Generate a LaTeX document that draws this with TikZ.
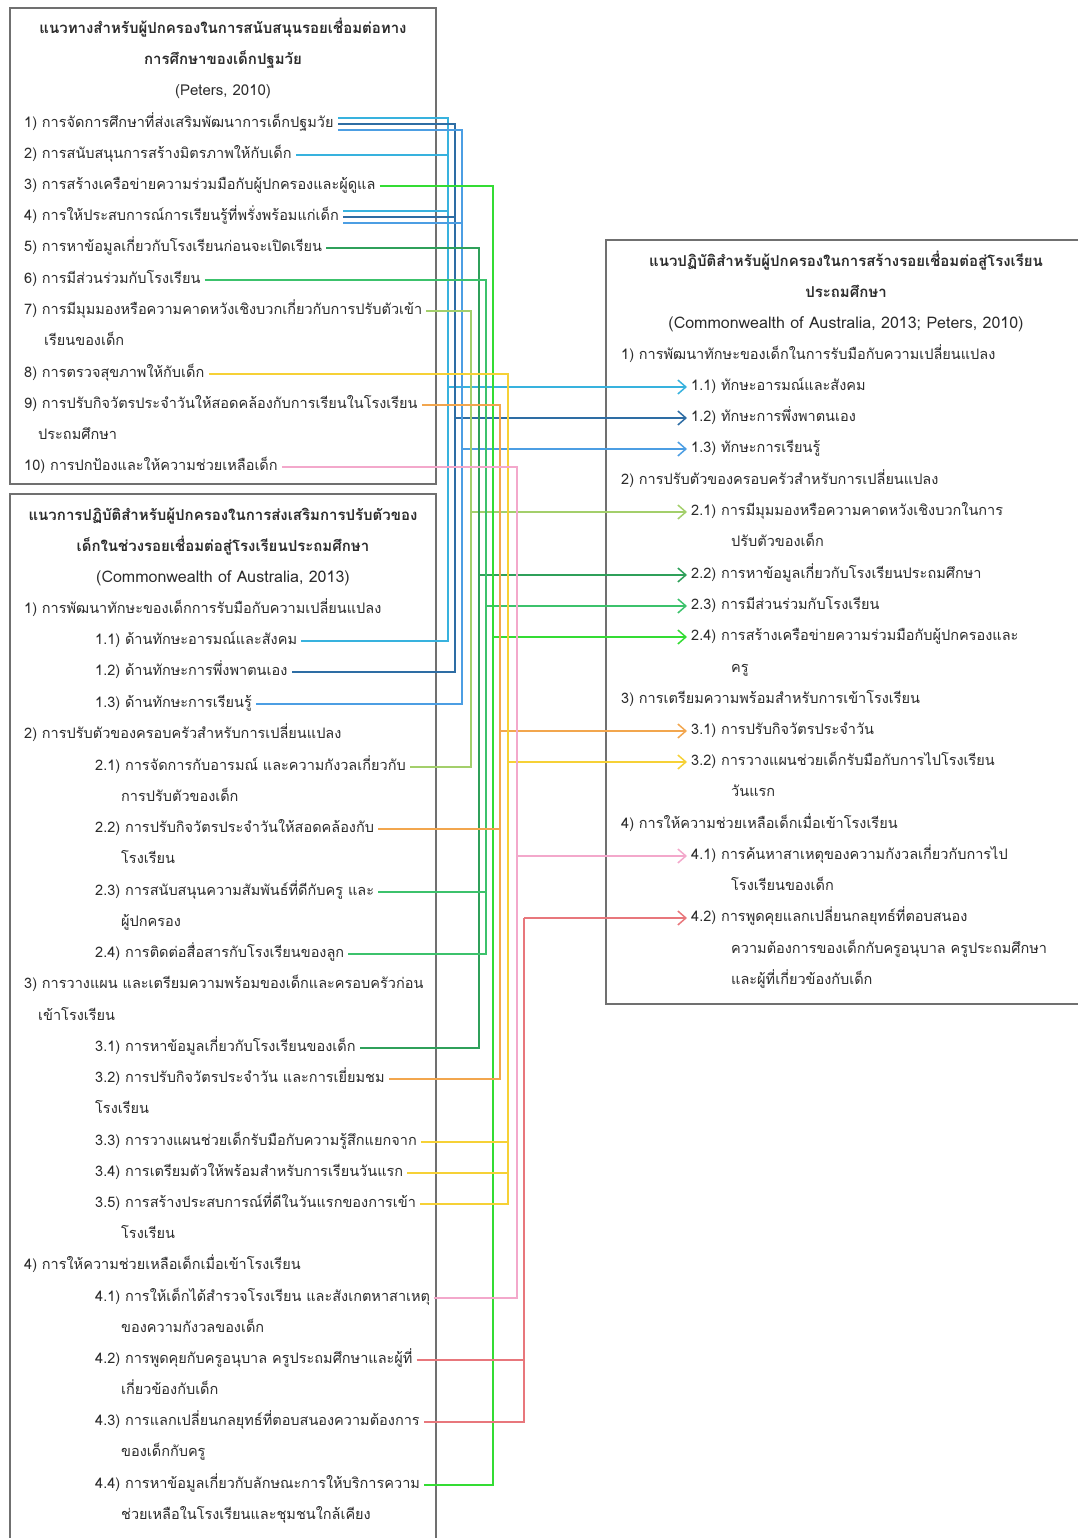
\documentclass[tikz,border=0pt]{standalone}
\usepackage{fontspec}
\setmainfont[Script=Thai]{Loma}
\usepackage{tikz}
\usetikzlibrary{arrows.meta,positioning,calc}
\usepackage{xcolor}
\definecolor{TrCyan}{HTML}{38B2DE}
\definecolor{TrNavy}{HTML}{2E6DA4}
\definecolor{TrBlue}{HTML}{4C9EE3}
\definecolor{TrLime}{HTML}{A3CF6B}
\definecolor{TrForest}{HTML}{2FA05A}
\definecolor{TrGreen}{HTML}{3CC26C}
\definecolor{TrBright}{HTML}{34DC34}
\definecolor{TrOrange}{HTML}{F2A64E}
\definecolor{TrYellow}{HTML}{F6D136}
\definecolor{TrPink}{HTML}{F3A8CB}
\definecolor{TrRed}{HTML}{E8777C}
\definecolor{TrFrame}{HTML}{707070}
\definecolor{TrInk}{HTML}{2B2B2B}

\begin{document}
\begin{tikzpicture}[x=1pt, y=-1pt, font=\fontsize{14.5}{16}\selectfont, text=TrInk,
    txt/.style={anchor=west, inner xsep=4pt, inner ysep=0pt, text height=11pt, text depth=4pt},
    ttl/.style={anchor=center, inner sep=0pt, text height=11pt, text depth=4pt, font=\fontsize{15}{17}\selectfont\bfseries},
    cite/.style={anchor=center, inner sep=0pt, text height=11pt, text depth=4pt, font=\fontsize{16}{17}\selectfont},
    frame/.style={draw=TrFrame, line width=1.1pt},
    link/.style={line width=1.5pt},
    arr/.style={link, -{Straight Barb[length=8pt, width=14pt, line width=1.5pt]}}]
  \useasboundingbox (0,0) rectangle (1078,1538);

  % frames
  \draw[frame] (10,8) rectangle (436,484);
  \draw[frame] (10,1538) |- (436,494) -- (436,1538);
  \draw[frame] (1078,240) -| (606,1004) -- (1078,1004);

  % top-left box
  \node[ttl] (tA1) at (223,30) {แนวทางสำหรับผู้ปกครองในการสนับสนุนรอยเชื่อมต่อทาง};
  \node[ttl] (tA2) at (223,61) {การศึกษาของเด็กปฐมวัย};
  \node[cite, font=\fontsize{15}{17}\selectfont] (tA3) at (223,92) {(Peters, 2010)};
  \node[txt] (p1) at (20,124) {1) การจัดการศึกษาที่ส่งเสริมพัฒนาการเด็กปฐมวัย};
  \node[txt] (p2) at (20,155) {2) การสนับสนุนการสร้างมิตรภาพให้กับเด็ก};
  \node[txt] (p3) at (20,186) {3) การสร้างเครือข่ายความร่วมมือกับผู้ปกครองและผู้ดูแล};
  \node[txt] (p4) at (20,217) {4) การให้ประสบการณ์การเรียนรู้ที่พรั่งพร้อมแก่เด็ก};
  \node[txt] (p5) at (20,248) {5) การหาข้อมูลเกี่ยวกับโรงเรียนก่อนจะเปิดเรียน};
  \node[txt] (p6) at (20,280) {6) การมีส่วนร่วมกับโรงเรียน};
  \node[txt] (p7) at (20,311) {7) การมีมุมมองหรือความคาดหวังเชิงบวกเกี่ยวกับการปรับตัวเข้า};
  \node[txt] (p7b) at (40,342) {เรียนของเด็ก};
  \node[txt] (p8) at (20,374) {8) การตรวจสุขภาพให้กับเด็ก};
  \node[txt] (p9) at (20,405) {9) การปรับกิจวัตรประจำวันให้สอดคล้องกับการเรียนในโรงเรียน};
  \node[txt] (p9b) at (34,436) {ประถมศึกษา};
  \node[txt] (p10) at (20,467) {10) การปกป้องและให้ความช่วยเหลือเด็ก};

  % lower-left box
  \node[ttl] (tB1) at (223,517) {แนวการปฏิบัติสำหรับผู้ปกครองในการส่งเสริมการปรับตัวของ};
  \node[ttl] (tB2) at (223,548) {เด็กในช่วงรอยเชื่อมต่อสู่โรงเรียนประถมศึกษา};
  \node[cite] (tB3) at (223,579) {(Commonwealth of Australia, 2013)};
  \node[txt] (l1) at (20,610) {1) การพัฒนาทักษะของเด็กการรับมือกับความเปลี่ยนแปลง};
  \node[txt] (l11) at (91,641) {1.1) ด้านทักษะอารมณ์และสังคม};
  \node[txt] (l12) at (91,672) {1.2) ด้านทักษะการพึ่งพาตนเอง};
  \node[txt] (l13) at (91,704) {1.3) ด้านทักษะการเรียนรู้};
  \node[txt] (l2) at (20,735) {2) การปรับตัวของครอบครัวสำหรับการเปลี่ยนแปลง};
  \node[txt] (l21) at (91,767) {2.1) การจัดการกับอารมณ์ และความกังวลเกี่ยวกับ};
  \node[txt] (l21b) at (117,798) {การปรับตัวของเด็ก};
  \node[txt] (l22) at (91,829) {2.2) การปรับกิจวัตรประจำวันให้สอดคล้องกับ};
  \node[txt] (l22b) at (117,860) {โรงเรียน};
  \node[txt] (l23) at (91,892) {2.3) การสนับสนุนความสัมพันธ์ที่ดีกับครู และ};
  \node[txt] (l23b) at (117,923) {ผู้ปกครอง};
  \node[txt] (l24) at (91,954) {2.4) การติดต่อสื่อสารกับโรงเรียนของลูก};
  \node[txt] (l3) at (20,985) {3) การวางแผน และเตรียมความพร้อมของเด็กและครอบครัวก่อน};
  \node[txt] (l3b) at (34,1017) {เข้าโรงเรียน};
  \node[txt] (l31) at (91,1048) {3.1) การหาข้อมูลเกี่ยวกับโรงเรียนของเด็ก};
  \node[txt] (l32) at (91,1079) {3.2) การปรับกิจวัตรประจำวัน และการเยี่ยมชม};
  \node[txt] (l32b) at (91,1110) {โรงเรียน};
  \node[txt] (l33) at (91,1142) {3.3) การวางแผนช่วยเด็กรับมือกับความรู้สึกแยกจาก};
  \node[txt] (l34) at (91,1173) {3.4) การเตรียมตัวให้พร้อมสำหรับการเรียนวันแรก};
  \node[txt] (l35) at (91,1204) {3.5) การสร้างประสบการณ์ที่ดีในวันแรกของการเข้า};
  \node[txt] (l35b) at (117,1235) {โรงเรียน};
  \node[txt] (l4) at (20,1266) {4) การให้ความช่วยเหลือเด็กเมื่อเข้าโรงเรียน};
  \node[txt] (l41) at (91,1298) {4.1) การให้เด็กได้สำรวจโรงเรียน และสังเกตหาสาเหตุ};
  \node[txt] (l41b) at (117,1329) {ของความกังวลของเด็ก};
  \node[txt] (l42) at (91,1360) {4.2) การพูดคุยกับครูอนุบาล ครูประถมศึกษาและผู้ที่};
  \node[txt] (l42b) at (117,1391) {เกี่ยวข้องกับเด็ก};
  \node[txt] (l43) at (91,1422) {4.3) การแลกเปลี่ยนกลยุทธ์ที่ตอบสนองความต้องการ};
  \node[txt] (l43b) at (117,1453) {ของเด็กกับครู};
  \node[txt] (l44) at (91,1485) {4.4) การหาข้อมูลเกี่ยวกับลักษณะการให้บริการความ};
  \node[txt] (l44b) at (117,1516) {ช่วยเหลือในโรงเรียนและชุมชนใกล้เคียง};

  % right box
  \node[ttl] (tC1) at (846,263) {แนวปฏิบัติสำหรับผู้ปกครองในการสร้างรอยเชื่อมต่อสู่โรงเรียน};
  \node[ttl] (tC2) at (846,294) {ประถมศึกษา};
  \node[cite] (tC3) at (846,325) {(Commonwealth of Australia, 2013; Peters, 2010)};
  \node[txt] (q1) at (617,356) {1) การพัฒนาทักษะของเด็กในการรับมือกับความเปลี่ยนแปลง};
  \node[txt] (q11) at (687,387) {1.1) ทักษะอารมณ์และสังคม};
  \node[txt] (q12) at (687,418) {1.2) ทักษะการพึ่งพาตนเอง};
  \node[txt] (q13) at (687,449) {1.3) ทักษะการเรียนรู้};
  \node[txt] (q2) at (617,481) {2) การปรับตัวของครอบครัวสำหรับการเปลี่ยนแปลง};
  \node[txt] (q21) at (687,512) {2.1) การมีมุมมองหรือความคาดหวังเชิงบวกในการ};
  \node[txt] (q21b) at (727,543) {ปรับตัวของเด็ก};
  \node[txt] (q22) at (687,575) {2.2) การหาข้อมูลเกี่ยวกับโรงเรียนประถมศึกษา};
  \node[txt] (q23) at (687,606) {2.3) การมีส่วนร่วมกับโรงเรียน};
  \node[txt] (q24) at (687,637) {2.4) การสร้างเครือข่ายความร่วมมือกับผู้ปกครองและ};
  \node[txt] (q24b) at (727,669) {ครู};
  \node[txt] (q3) at (617,700) {3) การเตรียมความพร้อมสำหรับการเข้าโรงเรียน};
  \node[txt] (q31) at (687,731) {3.1) การปรับกิจวัตรประจำวัน};
  \node[txt] (q32) at (687,762) {3.2) การวางแผนช่วยเด็กรับมือกับการไปโรงเรียน};
  \node[txt] (q32b) at (727,793) {วันแรก};
  \node[txt] (q4) at (617,825) {4) การให้ความช่วยเหลือเด็กเมื่อเข้าโรงเรียน};
  \node[txt] (q41) at (687,856) {4.1) การค้นหาสาเหตุของความกังวลเกี่ยวกับการไป};
  \node[txt] (q41b) at (727,887) {โรงเรียนของเด็ก};
  \node[txt] (q42) at (687,918) {4.2) การพูดคุยแลกเปลี่ยนกลยุทธ์ที่ตอบสนอง};
  \node[txt] (q42b) at (727,950) {ความต้องการของเด็กกับครูอนุบาล ครูประถมศึกษา};
  \node[txt] (q42c) at (727,981) {และผู้ที่เกี่ยวข้องกับเด็ก};

  % buses
  \coordinate (bA) at (448,0);
  \coordinate (bB) at (455,0);
  \coordinate (bC) at (462,0);
  \coordinate (bD) at (471,0);
  \coordinate (bE) at (479,0);
  \coordinate (bF) at (486,0);
  \coordinate (bG) at (493,0);
  \coordinate (bH) at (500,0);
  \coordinate (bI) at (508,0);
  \coordinate (bJ) at (517,0);
  \coordinate (bK) at (524,0);

  % 1.1
  \draw[link,TrCyan] ([yshift=6pt]p1.east) -| (bA |- l11) -- (l11.east);
  \draw[link,TrCyan] (p2.east) -- (bA |- p2);
  \draw[link,TrCyan] ([yshift=6pt]p4.east) -- ([yshift=6pt]bA |- p4);
  \draw[arr,TrCyan] (bA |- q11) -- (q11.west);
  % 1.2
  \draw[link,TrNavy] (p1.east) -| (bB |- l12) -- (l12.east);
  \draw[link,TrNavy] (p4.east) -- (bB |- p4);
  \draw[arr,TrNavy] (bB |- q12) -- (q12.west);
  % 1.3
  \draw[link,TrBlue] ([yshift=-6pt]p1.east) -| (bC |- l13) -- (l13.east);
  \draw[link,TrBlue] ([yshift=-6pt]p4.east) -- ([yshift=-6pt]bC |- p4);
  \draw[arr,TrBlue] (bC |- q13) -- (q13.west);
  % 2.1
  \draw[link,TrLime] (p7.east) -| (bD |- l21) -- (l21.east);
  \draw[arr,TrLime] (bD |- q21) -- (q21.west);
  % 2.2
  \draw[link,TrForest] (p5.east) -| (bE |- l31) -- (l31.east);
  \draw[arr,TrForest] (bE |- q22) -- (q22.west);
  % 2.3
  \draw[link,TrGreen] (p6.east) -| (bF |- l24) -- (l24.east);
  \draw[link,TrGreen] (l23.east) -- (bF |- l23);
  \draw[arr,TrGreen] (bF |- q23) -- (q23.west);
  % 2.4
  \draw[link,TrBright] (p3.east) -| (bG |- l44) -- (l44.east);
  \draw[arr,TrBright] (bG |- q24) -- (q24.west);
  % 3.1
  \draw[link,TrOrange] (p9.east) -| (bH |- l32) -- (l32.east);
  \draw[link,TrOrange] (l22.east) -- (bH |- l22);
  \draw[arr,TrOrange] (bH |- q31) -- (q31.west);
  % 3.2
  \draw[link,TrYellow] (p8.east) -| (bI |- l35) -- (l35.east);
  \draw[link,TrYellow] (l33.east) -- (bI |- l33);
  \draw[link,TrYellow] (l34.east) -- (bI |- l34);
  \draw[arr,TrYellow] (bI |- q32) -- (q32.west);
  % 4.1
  \draw[link,TrPink] (p10.east) -| (bJ |- l41) -- (l41.east);
  \draw[arr,TrPink] (bJ |- q41) -- (q41.west);
  % 4.2
  \draw[link,TrRed] (bK |- q42) |- (l43.east);
  \draw[link,TrRed] (l42.east) -- (bK |- l42);
  \draw[arr,TrRed] (bK |- q42) -- (q42.west);
\end{tikzpicture}
\end{document}
